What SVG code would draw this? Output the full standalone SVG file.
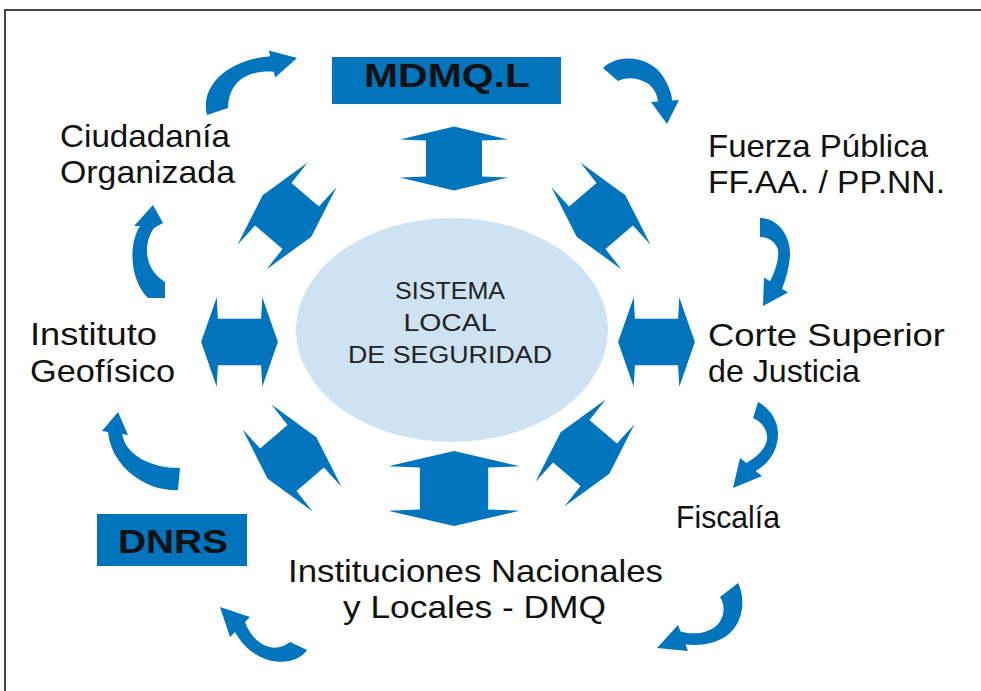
<svg xmlns="http://www.w3.org/2000/svg" xmlns:xlink="http://www.w3.org/1999/xlink" width="981" height="691" viewBox="0 0 981 691">
<style>
.lbl{font-family:"Liberation Sans",Arial,sans-serif;font-size:32px;fill:#111}
.ctr{font-family:"Liberation Sans",Arial,sans-serif;font-size:23px;fill:#222;text-anchor:middle}
.box{fill:#0074bd}
.btxt{font-family:"Liberation Sans",Arial,sans-serif;font-weight:bold;fill:#111;text-anchor:middle}
.arr{fill:#0074bd}
</style>
<defs>
<path id="dbl" d="M0,-32 L54,-19 L28,-18 L28,18 L54,19 L0,32 L-54,19 L-28,18 L-28,-18 L-54,-19 Z"/>
</defs>
<rect width="981" height="691" fill="#fff"/>
<path d="M5,691 V10 H981" stroke="#444" stroke-width="2" fill="none"/>

<g id="sistema">
<ellipse cx="452" cy="330" rx="156" ry="112" fill="#cde3f1"/>
<text class="ctr" x="450" y="299" textLength="110" lengthAdjust="spacingAndGlyphs">SISTEMA</text>
<text class="ctr" x="450" y="331" textLength="93" lengthAdjust="spacingAndGlyphs">LOCAL</text>
<text class="ctr" x="450" y="363" textLength="204" lengthAdjust="spacingAndGlyphs">DE SEGURIDAD</text>
</g>
<g id="mdmq">
<rect class="box" x="332" y="57" width="229" height="47"/>
<text class="btxt" x="447" y="87" font-size="33" textLength="166" lengthAdjust="spacingAndGlyphs">MDMQ.L</text>
</g>
<g id="dnrs">
<rect class="box" x="97" y="514" width="150" height="52"/>
<text class="btxt" x="173" y="553" font-size="33" textLength="110" lengthAdjust="spacingAndGlyphs">DNRS</text>
</g>
<g id="ciudadania">
<text class="lbl" x="60" y="147" textLength="170" lengthAdjust="spacingAndGlyphs">Ciudadanía</text>
<text class="lbl" x="60" y="183" textLength="175" lengthAdjust="spacingAndGlyphs">Organizada</text>
</g>
<g id="fuerza">
<text class="lbl" x="708" y="157" textLength="220" lengthAdjust="spacingAndGlyphs">Fuerza Pública</text>
<text class="lbl" x="708" y="193" textLength="237" lengthAdjust="spacingAndGlyphs">FF.AA. / PP.NN.</text>
</g>
<g id="geofisico">
<text class="lbl" x="30" y="345" textLength="127" lengthAdjust="spacingAndGlyphs">Instituto</text>
<text class="lbl" x="30" y="382" textLength="145" lengthAdjust="spacingAndGlyphs">Geofísico</text>
</g>
<g id="corte">
<text class="lbl" x="708" y="346" textLength="237" lengthAdjust="spacingAndGlyphs">Corte Superior</text>
<text class="lbl" x="708" y="382" textLength="152" lengthAdjust="spacingAndGlyphs">de Justicia</text>
</g>
<g id="fiscalia">
<text class="lbl" x="676" y="528" textLength="104" lengthAdjust="spacingAndGlyphs">Fiscalía</text>
</g>
<g id="instituciones">
<text class="lbl" x="288" y="582" textLength="375" lengthAdjust="spacingAndGlyphs">Instituciones Nacionales</text>
<text class="lbl" x="343" y="618" textLength="263" lengthAdjust="spacingAndGlyphs">y Locales - DMQ</text>
</g>

<g id="connectors" class="arr">
<use xlink:href="#dbl" href="#dbl" transform="translate(454,158.5)"/>
<use xlink:href="#dbl" href="#dbl" transform="translate(454,488.5) scale(1.22,1.17)"/>
<use xlink:href="#dbl" href="#dbl" transform="translate(239.5,342) rotate(90) scale(0.83,1.2)"/>
<use xlink:href="#dbl" href="#dbl" transform="translate(656.5,342) rotate(90) scale(0.83,1.2)"/>
<use xlink:href="#dbl" href="#dbl" transform="translate(287,216) rotate(-49.5)"/>
<use xlink:href="#dbl" href="#dbl" transform="translate(601,216) rotate(49.5)"/>
<use xlink:href="#dbl" href="#dbl" transform="translate(292,458) rotate(49.5)"/>
<use xlink:href="#dbl" href="#dbl" transform="translate(585,453) rotate(-49.5)"/>

<path d="M207,115 C200,88 225,60 270.2,56.2 L268.8,50.4 L297,58 L275.2,77.6 L273.8,71.8 C246,70 229,82 228,108 Z"/>
<path d="M603,68 C620,52 652,57 664,78 C669,87 672,94 672,100.4 L679,100 L667,124 L651,102 L658,101.6 C657,93 653,87 647,83 C637,77 626,77 618,81 Z"/>
<path d="M760,218 C776,218 791,234 790,256 C789,268 786,279 782,288.7 L788,292.4 L763,306 L764,277.6 L770,281.3 C776,270 779,258 778,250 C776,242 768,237 760,237 Z"/>
<path d="M758,402 C773,410 781,426 777,443 C774,456 766,465 755.6,471 L762,476 L733,488 L740,458 L746.4,463 C757,457 765,449 767,440 C768,430 762,422 753,418 Z"/>
<path d="M738,583 C747,602 742,626 725,637 C713,644 700,646 685.5,644.5 L688,651 L657,648 L678,625 L680.5,631.5 C697,636 712,632 719,623 C726,613 724,603 720,597 Z"/>
<path d="M307,650 C295,668 255,668 235,632 L230,637 L220,607 L250,617 L245,622 C252,642 272,656 290,642 Z"/>
<path d="M178,490 C150,492 112,470 108,432 L102,431 L118,412 L128,435 L122,434 C126,455 150,468 180,468 Z"/>
<path d="M148,298 C130,280 128,245 140,226 L134,226 L153,205 L163,223 L154,228 C142,245 145,270 165,282 L165,298 Z"/>
</g>
</svg>
